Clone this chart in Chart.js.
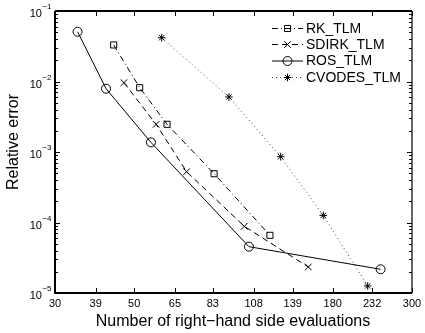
<!DOCTYPE html>
<html>
<head>
<meta charset="utf-8">
<script src="https://cdn.jsdelivr.net/npm/chart.js@4/dist/chart.umd.min.js"></script>
<style>
  html, body { margin: 0; padding: 0; background: #fff; }
  canvas { display: block; }
</style>
</head>
<body>
<canvas id="grafico" width="425" height="333" style="width:425px;height:333px"></canvas>
<script>
// Datos (evaluaciones vs error relativo)
const rkX = [43.8, 51.8, 61.8, 83.7, 120];
const rkY = [0.033, 0.00817, 0.00247, 4.92e-4, 6.58e-5];

const sdirkX = [46.8, 57.6, 70.1, 101.7, 153.7];
const sdirkY = [0.00962, 0.00247, 5.26e-4, 8.83e-5, 2.34e-5];

const rosX = [34.7, 41.7, 55.7, 104.8, 245];
const rosY = [0.0508, 0.0079, 0.00137, 4.54e-5, 2.17e-5];

const cvodesX = [59.7, 92.1, 128.6, 169.3, 225.4];
const cvodesY = [0.0418, 0.00603, 8.58e-4, 1.26e-4, 1.26e-5];

const xTicks = [30, 39, 50, 65, 83, 108, 139, 180, 232, 300];
const yExps = [-5, -4, -3, -2, -1];

const seriesNames = ['RK_TLM', 'SDIRK_TLM', 'ROS_TLM', 'CVODES_TLM'];

const FUENTE = '"Liberation Sans", Arial, Helvetica, sans-serif';

// estilos de cada serie
const estilos = [
    { dash: [6, 3, 1, 3], punto: 'rect', radio: 4.3, color: '#000' },
    { dash: [6, 4], punto: 'crossRot', radio: 4.7, color: '#000' },
    { dash: [], punto: 'circle', radio: 4.5, color: '#000' },
    { dash: [1, 3], punto: 'star', radio: 3.8, color: '#444' }
];

const juntar = (xs, ys) => xs.map((x, i) => ({ x: x, y: ys[i] }));
const datos = [juntar(rkX, rkY), juntar(sdirkX, sdirkY), juntar(rosX, rosY), juntar(cvodesX, cvodesY)];

// dibuja un marcador para la leyenda
function marcador(ctx, tipo, r, x, y) {
    ctx.beginPath();
    if (tipo === 'circle') {
        ctx.arc(x, y, r, 0, Math.PI * 2);
    } else if (tipo === 'rect') {
        const s = r * Math.SQRT1_2;
        ctx.rect(x - s, y - s, 2 * s, 2 * s);
    } else if (tipo === 'crossRot') {
        const d = r * Math.SQRT1_2;
        ctx.moveTo(x - d, y - d); ctx.lineTo(x + d, y + d);
        ctx.moveTo(x - d, y + d); ctx.lineTo(x + d, y - d);
    } else if (tipo === 'star') {
        const d = r * Math.SQRT1_2;
        ctx.moveTo(x - r, y); ctx.lineTo(x + r, y);
        ctx.moveTo(x, y - r); ctx.lineTo(x, y + r);
        ctx.moveTo(x - d, y - d); ctx.lineTo(x + d, y + d);
        ctx.moveTo(x - d, y + d); ctx.lineTo(x + d, y - d);
    }
    ctx.stroke();
}

// plugin para ejes estilo MATLAB (marcas hacia adentro, caja, etiquetas)
const ejesMatlab = {
    id: 'ejesMatlab',
    afterDatasetsDraw(chart) {
        const ctx = chart.ctx;
        const area = chart.chartArea;
        const sx = chart.scales.x;
        const sy = chart.scales.y;
        ctx.save();
        ctx.strokeStyle = '#000';
        ctx.fillStyle = '#000';
        ctx.setLineDash([]);

        // caja
        ctx.lineWidth = 2;
        ctx.beginPath();
        ctx.moveTo(area.left, area.top);
        ctx.lineTo(area.left, area.bottom);
        ctx.lineTo(area.right, area.bottom);
        ctx.moveTo(area.left, area.top);
        ctx.lineTo(area.right, area.top);
        ctx.stroke();
        ctx.lineWidth = 1.2;
        ctx.beginPath();
        ctx.moveTo(area.right, area.top);
        ctx.lineTo(area.right, area.bottom);
        ctx.stroke();

        // marcas eje x
        ctx.lineWidth = 1;
        ctx.beginPath();
        xTicks.forEach(v => {
            const px = Math.round(sx.getPixelForValue(v)) + 0.5;
            ctx.moveTo(px, area.bottom); ctx.lineTo(px, area.bottom - 5);
            ctx.moveTo(px, area.top); ctx.lineTo(px, area.top + 5);
        });
        // marcas eje y (mayores y menores)
        yExps.forEach(e => {
            for (let m = 1; m <= 9; m++) {
                const v = m * Math.pow(10, e);
                if (v > 0.1 + 1e-12) break;
                const py = Math.round(sy.getPixelForValue(v)) + 0.5;
                const largo = m === 1 ? 5 : 3;
                ctx.moveTo(area.left, py); ctx.lineTo(area.left + largo, py);
                ctx.moveTo(area.right, py); ctx.lineTo(area.right - largo, py);
            }
        });
        ctx.stroke();

        // etiquetas eje x
        ctx.font = '11px ' + FUENTE;
        ctx.textAlign = 'center';
        ctx.textBaseline = 'middle';
        xTicks.forEach(v => {
            ctx.fillText(String(v), sx.getPixelForValue(v), area.bottom + 11);
        });

        // etiquetas eje y con exponente
        yExps.forEach(e => {
            const py = sy.getPixelForValue(Math.pow(10, e));
            const exp = '\u2212' + Math.abs(e);
            ctx.font = '8px ' + FUENTE;
            const w2 = ctx.measureText(exp).width;
            ctx.font = '11px ' + FUENTE;
            const w1 = ctx.measureText('10').width;
            const x0 = area.left - 4 - w2 - w1;
            ctx.textAlign = 'left';
            ctx.fillText('10', x0, py + 3);
            ctx.font = '8px ' + FUENTE;
            ctx.fillText(exp, x0 + w1 + 0.5, py - 4);
        });

        // titulos de ejes
        ctx.font = '16px ' + FUENTE;
        ctx.textAlign = 'center';
        ctx.fillText('Number of right\u2212hand side evaluations', 233, 322);
        ctx.save();
        ctx.translate(14, 142);
        ctx.rotate(-Math.PI / 2);
        ctx.fillText('Relative error', 0, 0);
        ctx.restore();

        // leyenda
        const filasY = [28, 44, 60.5, 77];
        ctx.font = '14px ' + FUENTE;
        ctx.textAlign = 'left';
        seriesNames.forEach((nombre, i) => {
            const est = estilos[i];
            const y = filasY[i] + 0.5;
            ctx.strokeStyle = est.color;
            ctx.lineWidth = 1;
            ctx.setLineDash(est.dash);
            ctx.beginPath();
            ctx.moveTo(272, y); ctx.lineTo(303, y);
            ctx.stroke();
            ctx.setLineDash([]);
            ctx.strokeStyle = '#000';
            marcador(ctx, est.punto, est.radio, 287.5, y);
            ctx.fillStyle = '#000';
            ctx.fillText(nombre, 306, filasY[i] + 1);
        });
        ctx.restore();
    }
};

const datasets = seriesNames.map((nombre, i) => ({
    label: nombre,
    data: datos[i],
    borderColor: estilos[i].color,
    borderWidth: 1,
    borderDash: estilos[i].dash,
    pointStyle: estilos[i].punto,
    pointRadius: estilos[i].radio,
    pointBorderColor: '#000',
    pointBackgroundColor: 'rgba(0,0,0,0)',
    pointBorderWidth: 1,
    tension: 0,
    fill: false
}));

new Chart(document.getElementById('grafico'), {
    type: 'line',
    data: { datasets: datasets },
    options: {
        responsive: false,
        devicePixelRatio: 1,
        animation: false,
        layout: { padding: { top: 11, right: 13, left: 0, bottom: 0 } },
        plugins: { legend: { display: false }, tooltip: { enabled: false } },
        scales: {
            x: {
                type: 'logarithmic',
                min: 30,
                max: 300,
                ticks: { display: false },
                grid: { display: false },
                border: { display: false },
                afterFit: (scale) => { scale.height = 40; }
            },
            y: {
                type: 'logarithmic',
                min: 1e-5,
                max: 1e-1,
                ticks: { display: false },
                grid: { display: false },
                border: { display: false },
                afterFit: (scale) => { scale.width = 55; }
            }
        }
    },
    plugins: [ejesMatlab]
});
</script>
</body>
</html>
